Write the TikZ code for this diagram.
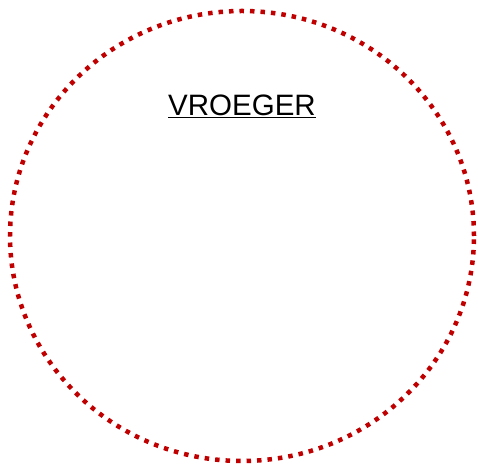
\documentclass[tikz,border=0pt]{standalone}
\usepackage{fontspec}
\setmainfont{Liberation Sans}
\definecolor{dotred}{HTML}{C00000}
\tikzset{
  dottedring/.style={draw=dotred, line width=4.5pt, dash pattern=on 4.5pt off 6pt},
  titletext/.style={font=\fontsize{29.5}{33}\selectfont, text=black, inner sep=0pt, anchor=base}
}
\begin{document}
\begin{tikzpicture}[x=1pt,y=1pt]
\useasboundingbox (0,0) rectangle (478,468);
\draw[dottedring] (242,232) ellipse [x radius=232, y radius=225];
\node[titletext] (title) at (242,352) {\underline{VROEGER}};
\end{tikzpicture}
\end{document}
